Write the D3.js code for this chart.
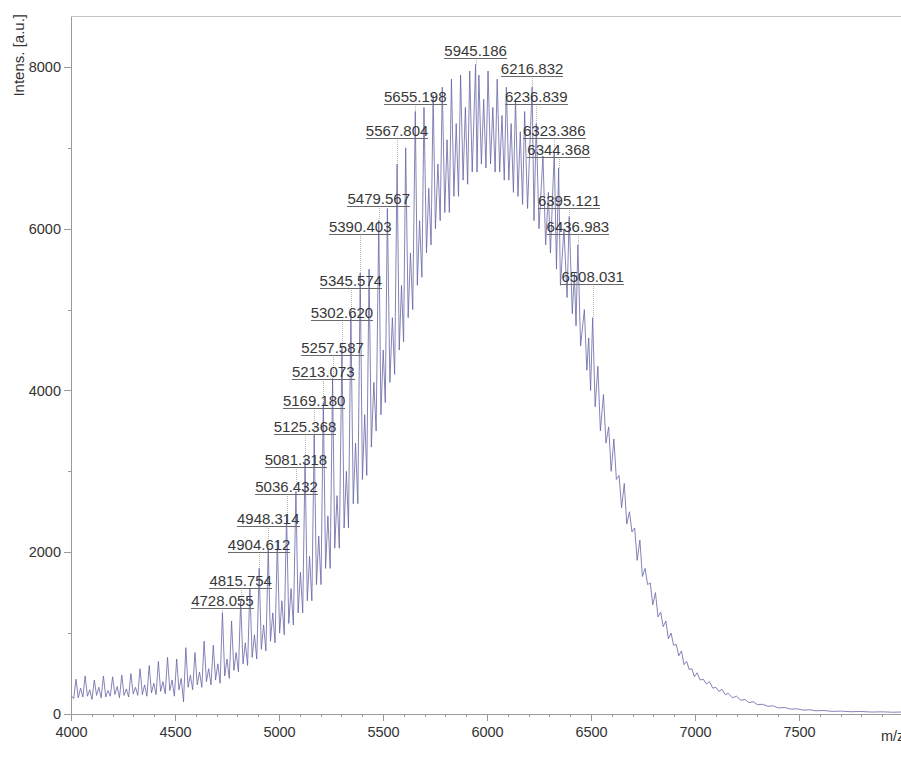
<!DOCTYPE html>
<html lang="en">
<head>
  <meta charset="UTF-8">
  <title>Mass spectrum</title>
  <script src="https://d3js.org/d3.v7.min.js"></script>
  <style>
    body {
      margin: 0;
      background: #fff;
    }
    svg {
      display: block;
      font-family: 'Liberation Sans', Arial, sans-serif;
    }
    .axis path, .axis line {
      stroke: #9a9a9a;
      shape-rendering: crispEdges;
    }
    .axis text {
      fill: #333;
      font-size: 14.5px;
    }
    .spectrum {
      fill: none;
      stroke: #6464a6;
      stroke-width: 0.8px;
    }
    .leader {
      stroke: #b4b4b4;
      stroke-width: 1px;
      stroke-dasharray: 1,1;
    }
    .peak-label {
      fill: #383838;
      font-size: 15px;
    }
    .underline {
      stroke: #6a6a6a;
      stroke-width: 1px;
      shape-rendering: crispEdges;
    }
  </style>
</head>
<body>
  <svg id="chart" width="901" height="758"></svg>

  <script>
    // spectrum trace, [m/z, intensity]
    const spectrum = [
      [4000, 230],
      [4013, 190], [4024, 430], [4035, 200], [4046, 320],
      [4057, 210], [4068, 470], [4079, 220], [4090, 300],
      [4101, 180], [4112, 420], [4123, 230], [4134, 330],
      [4145, 200], [4156, 470], [4167, 210], [4178, 290],
      [4189, 220], [4200, 460], [4211, 240], [4222, 340],
      [4233, 200], [4244, 480], [4255, 230], [4266, 310],
      [4277, 210], [4288, 500], [4299, 250], [4310, 330],
      [4321, 230], [4332, 560], [4343, 240], [4354, 360],
      [4365, 220], [4376, 600], [4387, 260], [4398, 380],
      [4409, 240], [4420, 650], [4431, 280], [4442, 400],
      [4453, 250], [4464, 700], [4475, 290], [4486, 420],
      [4497, 220], [4508, 680], [4519, 300], [4530, 440],
      [4541, 150], [4552, 820], [4563, 330], [4574, 480],
      [4585, 300], [4596, 760], [4607, 360], [4618, 520],
      [4629, 330], [4640, 900], [4651, 400], [4662, 560],
      [4673, 360], [4684, 850], [4695, 420], [4706, 620],
      [4717, 380], [4728.055, 1250], [4739, 470], [4750, 680],
      [4761, 440], [4772, 1150], [4783, 540], [4794, 760],
      [4805, 520], [4815.754, 1400], [4827, 620], [4838, 880],
      [4849, 600], [4860, 1550], [4871, 700], [4882, 980],
      [4893, 680], [4904.612, 1800], [4915, 800], [4926, 1100],
      [4937, 780], [4948.314, 2050], [4959, 900], [4970, 1250],
      [4981, 880], [4992, 2150], [5003, 1000], [5014, 1400],
      [5025, 980], [5036.432, 2450], [5047, 1120], [5058, 1550],
      [5069, 1100], [5081.318, 2750], [5092, 1250], [5103, 1750],
      [5114, 1250], [5125.368, 3150], [5136, 1400], [5147, 1950],
      [5158, 1400], [5169.180, 3450], [5180, 1600], [5191, 2200],
      [5202, 1600], [5213.073, 3850], [5224, 1800], [5235, 2450],
      [5246, 1800], [5257.587, 4150], [5268, 2050], [5279, 2700],
      [5290, 2050], [5302.620, 4550], [5313, 2300], [5324, 3000],
      [5334, 2300], [5345.574, 4950], [5357, 2600], [5368, 3350],
      [5379, 2600], [5390.403, 5450], [5401, 2900], [5412, 3700],
      [5422, 2950], [5433, 5500], [5444, 3300], [5456, 4100],
      [5467, 3500], [5479.567, 6100], [5490, 3700], [5501, 4500],
      [5511, 3850], [5521, 6250], [5533, 4100], [5545, 4900],
      [5556, 4200], [5567.804, 6800], [5578, 4500], [5589, 5300],
      [5599, 4600], [5609, 7000], [5621, 4900], [5632, 5700],
      [5643, 5000], [5655.198, 7450], [5665, 5300], [5676, 6100],
      [5687, 5400], [5697, 7500], [5709, 5700], [5720, 6500],
      [5731, 5800], [5741, 7650], [5752, 6000], [5764, 6800],
      [5775, 6100], [5785, 7750], [5797, 6200], [5808, 7100],
      [5819, 6200], [5829, 7850], [5841, 6400], [5852, 7300],
      [5863, 6400], [5873, 7900], [5885, 6600], [5896, 7500],
      [5907, 6550], [5917, 7950], [5929, 6700], [5945.186, 8030],
      [5952, 6700], [5961, 7900], [5973, 6800], [5984, 7600],
      [5995, 6750], [6005, 7950], [6017, 6800], [6028, 7500],
      [6039, 6700], [6049, 7850], [6061, 6700], [6072, 7400],
      [6083, 6600], [6093, 7750], [6105, 6600], [6116, 7300],
      [6127, 6450], [6137, 7600], [6149, 6400], [6160, 7200],
      [6171, 6300], [6181, 7450], [6195, 6250], [6216.832, 7750],
      [6226, 6100], [6236.839, 7300], [6250, 6000], [6269, 6900],
      [6282, 5800], [6295, 6450], [6305, 5700], [6323.386, 6950],
      [6334, 5500], [6344.368, 6750], [6353, 5300], [6370, 6000],
      [6385, 5150], [6395.121, 6150], [6410, 4950], [6420, 5450],
      [6428, 4800], [6436.983, 5800], [6450, 4550], [6468, 5000],
      [6480, 4250], [6489, 4650], [6498, 4000], [6508.031, 4900],
      [6520, 3800], [6533, 4300], [6545, 3500], [6560, 3950],
      [6572, 3350], [6585, 3550], [6597, 3000], [6610, 3400],
      [6622, 2900], [6635, 2950], [6647, 2550], [6660, 2850],
      [6672, 2350], [6685, 2500], [6697, 2250], [6710, 2300],
      [6722, 1900], [6735, 2150], [6747, 1700], [6760, 1800],
      [6772, 1600], [6785, 1620], [6797, 1350], [6810, 1500],
      [6822, 1200], [6835, 1260], [6847, 1080], [6860, 1150],
      [6872, 930], [6885, 1000], [6897, 850], [6910, 860],
      [6922, 720], [6935, 780], [6947, 610], [6960, 650],
      [6972, 550], [6985, 560], [6997, 460], [7010, 510],
      [7025, 420], [7040, 430], [7055, 370], [7070, 400],
      [7085, 320], [7100, 330], [7115, 280], [7130, 305],
      [7145, 240], [7160, 255], [7180, 200], [7200, 220],
      [7220, 170], [7240, 180], [7260, 140], [7280, 152],
      [7300, 115], [7325, 120], [7350, 95], [7375, 102],
      [7400, 75], [7430, 80], [7460, 60], [7490, 64],
      [7520, 48], [7550, 52], [7580, 40], [7620, 43],
      [7660, 32], [7700, 36], [7750, 28], [7800, 31],
      [7850, 24], [7900, 27], [7950, 22], [8000, 25]
    ];

    // annotated peaks and the height their label sits at
    const labelMz = [
      4728.055, 4815.754, 4904.612, 4948.314, 5036.432, 5081.318, 5125.368,
      5169.180, 5213.073, 5257.587, 5302.620, 5345.574, 5390.403, 5479.567,
      5567.804, 5655.198, 5945.186, 6216.832, 6236.839, 6323.386, 6344.368,
      6395.121, 6436.983, 6508.031
    ];
    const labelLevel = [
      1311, 1558, 2003, 2325, 2720, 3054, 3462,
      3784, 4142, 4439, 4872, 5267, 5935, 6281,
      7122, 7543, 8111, 7889, 7543, 7122, 6887,
      6256, 5935, 5317
    ];

    const xTicks = [4000, 4500, 5000, 5500, 6000, 6500, 7000, 7500];
    const yTicks = [0, 2000, 4000, 6000, 8000];

    const svg = d3.select("#chart");
    const plot = { left: 71, right: 903, top: 16, bottom: 714 };

    const x = d3.scaleLinear()
      .domain([4000, 8000])
      .range([plot.left, plot.right]);

    const y = d3.scaleLinear()
      .domain([0, 8630])
      .range([plot.bottom, plot.top]);

    svg.append("clipPath")
      .attr("id", "clip")
      .append("rect")
      .attr("x", plot.left)
      .attr("y", plot.top)
      .attr("width", plot.right - plot.left)
      .attr("height", plot.bottom - plot.top);

    // frame top
    svg.append("line")
      .attr("x1", plot.left).attr("x2", 901)
      .attr("y1", plot.top + 0.5).attr("y2", plot.top + 0.5)
      .attr("stroke", "#c4c4c4");

    // minor ticks
    svg.append("g")
      .attr("class", "axis")
      .attr("transform", `translate(0,${plot.bottom})`)
      .call(d3.axisBottom(x).tickValues(x.ticks(40).filter(v => v % 500 !== 0))
        .tickSize(3).tickSizeOuter(0).tickFormat(""));

    svg.append("g")
      .attr("class", "axis")
      .attr("transform", `translate(${plot.left},0)`)
      .call(d3.axisLeft(y).tickValues(y.ticks(8).filter(v => v % 2000 !== 0))
        .tickSize(3).tickSizeOuter(0).tickFormat(""));

    // major axes
    svg.append("g")
      .attr("class", "axis")
      .attr("transform", `translate(0,${plot.bottom})`)
      .call(d3.axisBottom(x).tickValues(xTicks).tickSize(7).tickPadding(6).tickSizeOuter(0).tickFormat(d3.format("d")));

    svg.append("g")
      .attr("class", "axis")
      .attr("transform", `translate(${plot.left},0)`)
      .call(d3.axisLeft(y).tickValues(yTicks).tickSize(7).tickPadding(3).tickSizeOuter(0).tickFormat(d3.format("d")));

    // leader lines
    labelMz.forEach((mz, i) => {
      const peak = spectrum.find(d => d[0] === mz);
      svg.append("line")
        .attr("class", "leader")
        .attr("x1", Math.round(x(mz)) + 0.5)
        .attr("x2", Math.round(x(mz)) + 0.5)
        .attr("y1", y(labelLevel[i]))
        .attr("y2", y(peak[1]));
    });

    const line = d3.line()
      .x(d => x(d[0]))
      .y(d => y(d[1]));

    svg.append("path")
      .datum(spectrum)
      .attr("class", "spectrum")
      .attr("clip-path", "url(#clip)")
      .attr("d", line);

    // peak labels with underline
    labelMz.forEach((mz, i) => {
      const t = svg.append("text")
        .attr("class", "peak-label")
        .attr("x", x(mz))
        .attr("y", y(labelLevel[i]) - 2)
        .attr("text-anchor", "middle")
        .text(mz.toFixed(3));
      const w = t.node().getComputedTextLength();
      const ly = Math.round(y(labelLevel[i])) + 0.5;
      svg.append("line")
        .attr("class", "underline")
        .attr("x1", x(mz) - w / 2)
        .attr("x2", x(mz) + w / 2)
        .attr("y1", ly)
        .attr("y2", ly);
    });

    svg.append("text")
      .attr("transform", "translate(24,14) rotate(-90)")
      .attr("text-anchor", "end")
      .attr("fill", "#333")
      .style("font-size", "15px")
      .text("Intens. [a.u.]");

    // axis title, clipped by the right edge as in the original
    svg.append("text")
      .attr("x", 881)
      .attr("y", 741)
      .attr("fill", "#333")
      .style("font-size", "14.5px")
      .text("m/z");
  </script>
</body>
</html>
